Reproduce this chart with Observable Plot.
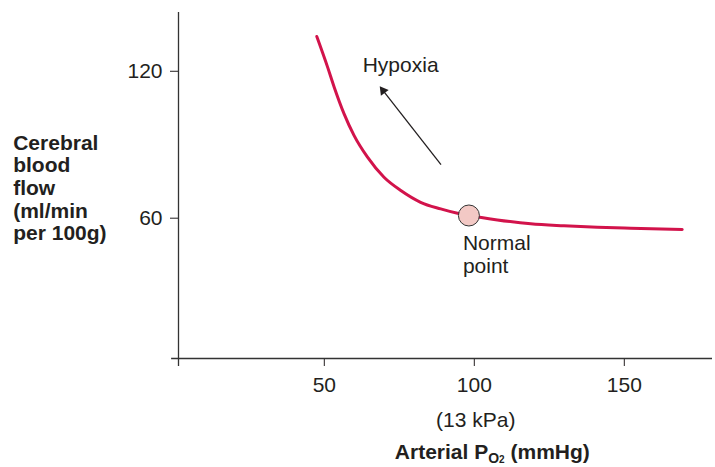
<!DOCTYPE html>
<html><head><meta charset="utf-8">
<script src="https://cdn.jsdelivr.net/npm/d3@7"></script>
<script src="https://cdn.jsdelivr.net/npm/@observablehq/plot@0.6"></script>
<style>body{margin:0;background:#fff}</style>
</head><body><div id="chart"></div>
<script>
// Arterial PO2 (mmHg) and cerebral blood flow (ml/min per 100g)
const po2  = [47.5, 51.1, 53.3, 56.6, 59.9, 64.4, 69.9, 75.5, 82.1, 88.8, 94.4, 98.2, 107.7, 118.8, 129.9, 141.0, 152.1, 169.3];
const flow = [134.2, 121.7, 113.5, 102.6, 93.8, 84.9, 76.7, 71.3, 66.5, 63.8, 62.0, 61.1, 59.3, 57.7, 56.9, 56.3, 55.9, 55.4];
const xTicks = [50, 100, 150];
const yTicks = [60, 120];
const normalPo2 = [98.2];
const normalFlow = [61.1];

const curve = po2.map((x, i) => ({x, y: flow[i]}));
const normal = normalPo2.map((x, i) => ({x, y: normalFlow[i]}));

const ink = "#231f20";
const font = "'Liberation Sans', Arial, Helvetica, sans-serif";

const plot = Plot.plot({
  width: 715,
  height: 467,
  marginLeft: 178,
  marginRight: 3,
  marginTop: 12,
  marginBottom: 109,
  style: {fontFamily: font, fontSize: "21px", color: ink, background: "#fff", overflow: "visible"},
  x: {domain: [1.4, 179.4], ticks: xTicks, tickSize: 8, tickPadding: 11, label: null, tickFormat: d => d},
  y: {domain: [2.7, 144], ticks: yTicks, tickSize: 8, tickPadding: 8, label: null, tickFormat: d => d},
  marks: [
    Plot.ruleX([1.4], {y1: -0.6, y2: 144, stroke: "#333", strokeWidth: 1.3}),
    Plot.ruleY([2.7], {x1: -0.9, x2: 179.4, stroke: "#333", strokeWidth: 1.3}),
    Plot.line(curve, {x: "x", y: "y", stroke: "#d2134b", strokeWidth: 3, curve: "monotone-x"}),
    Plot.link([0], {x1: 88.9, y1: 81.9, x2: 69.6, y2: 112.1, stroke: ink, strokeWidth: 1.3}),
    Plot.dot([0], {x: 69.6, y: 112.1, symbol: "triangle", r: 3.6, fill: ink, stroke: "none", rotate: -37}),
    Plot.dot(normal, {x: "x", y: "y", r: 10.5, fill: "#f3c9c5", stroke: "#333", strokeWidth: 1}),
    Plot.text(["Hypoxia"], {x: 62.8, y: 122.6, text: d => d, textAnchor: "start", fontSize: 21, fill: ink}),
    Plot.text(["Normal\npoint"], {x: 96.2, y: 53.7, text: d => d, textAnchor: "start", lineAnchor: "top", lineHeight: 1.1, fontSize: 21, fill: ink}),
    Plot.text(["Cerebral\nblood\nflow\n(ml/min\nper 100g)"], {frameAnchor: "top-left", dx: -165.3, dy: 121, text: d => d, textAnchor: "start", lineAnchor: "top", lineHeight: 1.08, fontWeight: "bold", fontSize: 21, fill: ink}),
    Plot.text(["(13 kPa)"], {x: 100.5, frameAnchor: "bottom", dy: 54, text: d => d, lineAnchor: "top", fontSize: 21, fill: ink}),
    Plot.text(["Arterial PO2 (mmHg)"], {x: 106, frameAnchor: "bottom", dy: 86, text: d => d, lineAnchor: "top", fontWeight: "bold", fontSize: 21, fill: ink})
  ]
});

d3.select(plot).selectAll("text").filter(function () { return this.textContent === "Arterial PO2 (mmHg)"; }).each(function () {
  const t = d3.select(this);
  t.text(null);
  t.append("tspan").text("Arterial P");
  t.append("tspan").attr("dy", 4).attr("font-size", 14).text("O");
  t.append("tspan").attr("font-size", 10).text("2");
  t.append("tspan").attr("dy", -4).attr("font-size", 21).text(" (mmHg)");
});

document.getElementById("chart").appendChild(plot);
</script>
</body></html>
